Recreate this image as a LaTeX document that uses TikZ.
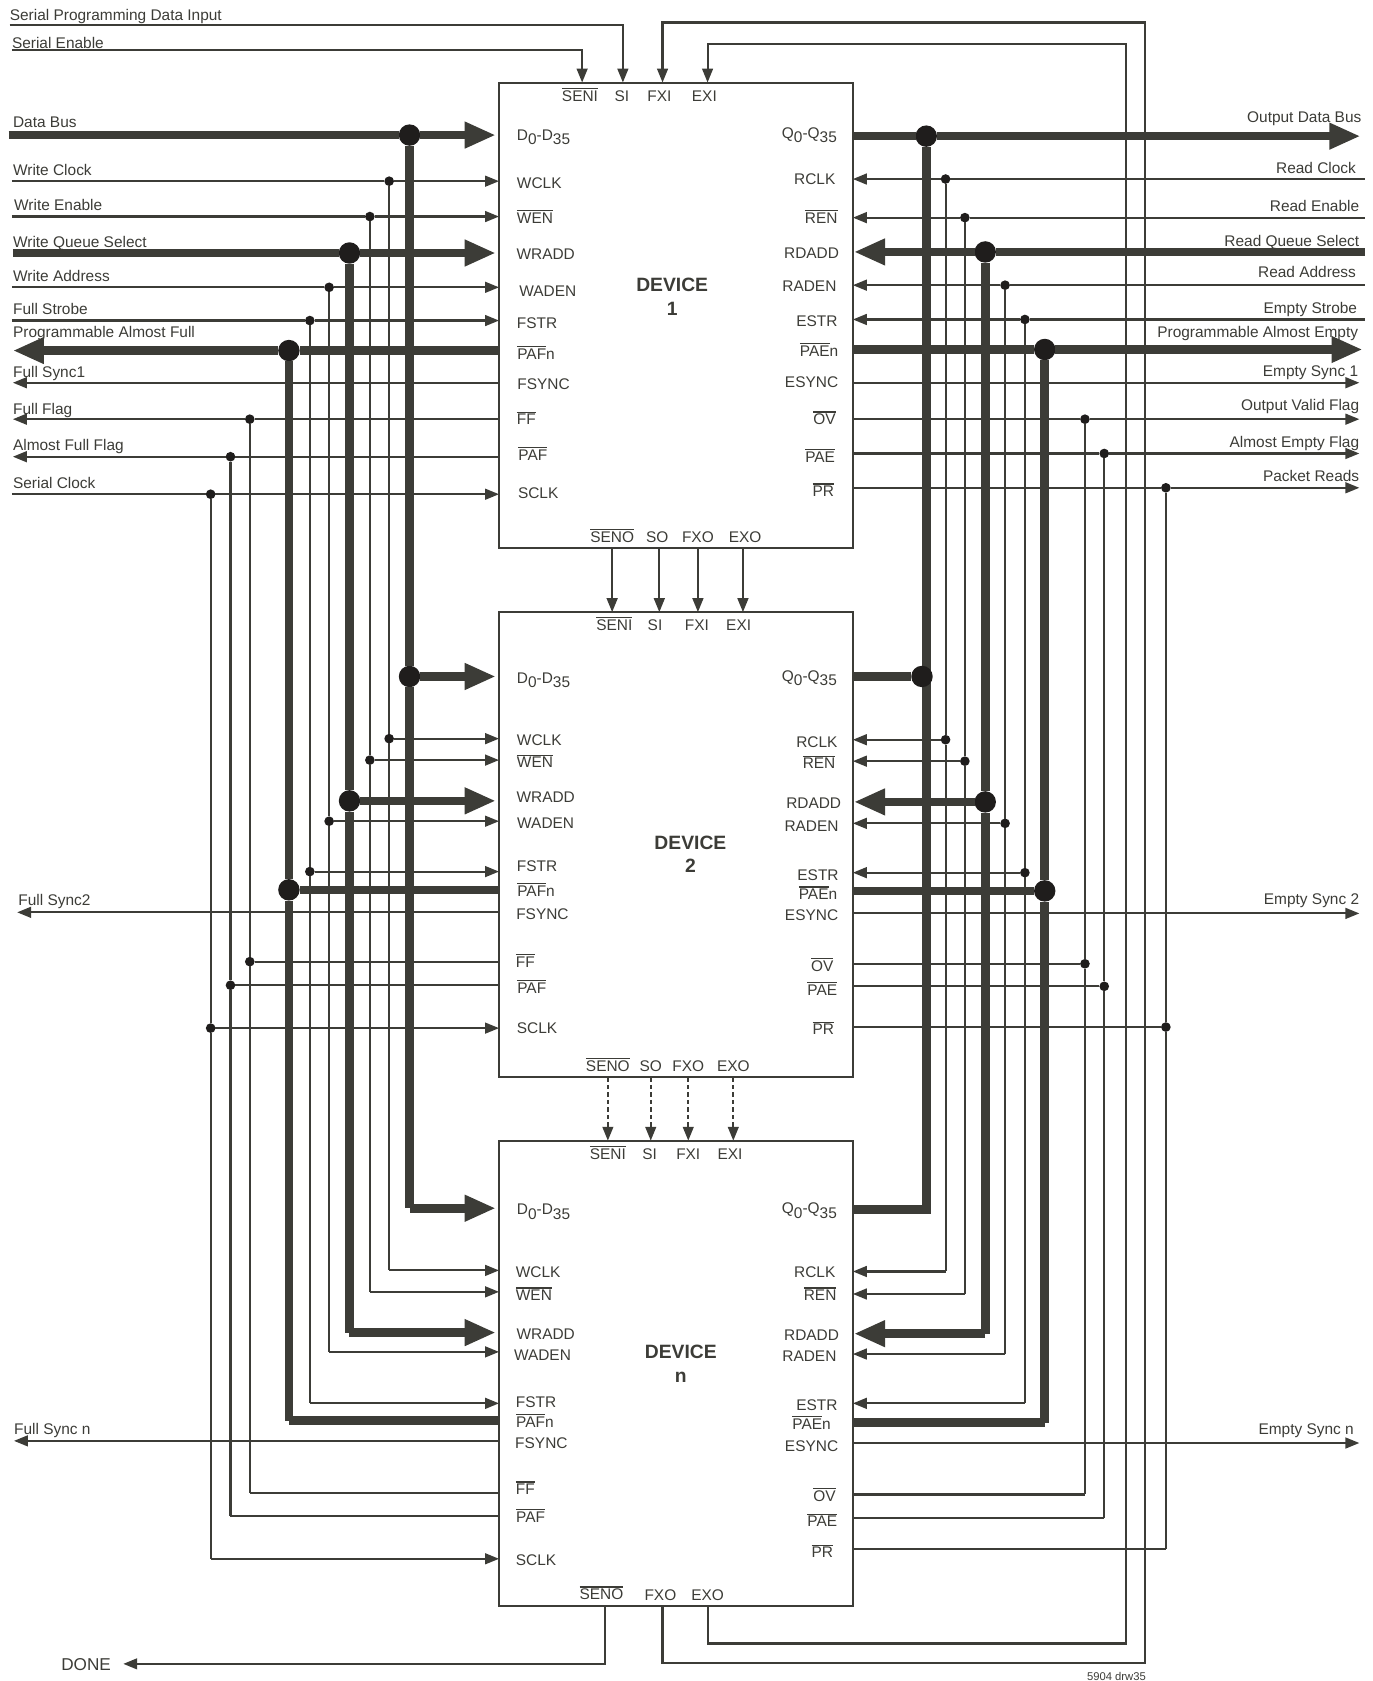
\documentclass[tikz,border=0pt]{standalone}
\usepackage{fontspec}
\setmainfont{Liberation Sans}
\usetikzlibrary{arrows.meta,positioning}
\definecolor{ink}{HTML}{3C3C37}
\definecolor{blob}{HTML}{1F1D1C}
\newcommand{\ovl}[1]{\leavevmode\vbox{\hrule height 1.1pt\kern 1.4pt\hbox{#1}}}
\newcommand{\sbs}[1]{\raisebox{-4pt}{#1}}

\begin{document}
\begin{tikzpicture}[x=1pt, y=-1pt, >={Triangle[length=13pt,width=10pt]}, node distance=60pt, every node/.style={text=ink, font=\fontsize{14.4}{17}\selectfont}] % Styles
\tikzstyle{device}=[draw=ink, line width=1.8pt, minimum width=330pt, minimum height=434pt, inner sep=0pt, outer sep=0pt]
\tikzstyle{lab}=[inner sep=0pt, text height=12.5pt, text depth=0pt]
\tikzstyle{extl}=[lab, anchor=west]
\tikzstyle{extr}=[lab, anchor=east]
\tikzstyle{devname}=[lab, font=\bfseries\fontsize{18}{21}\selectfont]
\tikzstyle{dot}=[circle, fill=blob, minimum size=9pt, inner sep=0pt, outer sep=0pt]
\tikzstyle{bigdot}=[circle, fill=blob, minimum size=20pt, inner sep=0pt, outer sep=0pt]
\tikzstyle{sig}=[draw=ink, line width=2pt]
\tikzstyle{busline}=[draw=ink, line width=8pt]
\tikzstyle{bus}=[busline, -{Triangle[length=29pt,width=23pt]}, shorten >=3pt]
\tikzstyle{dashsig}=[sig, dash pattern=on 4pt off 3pt]
\useasboundingbox (0,0) rectangle (1280,1568);
% Devices
\node[device] (dev1) at (630.5,294) {};
\node[device, below=of dev1] (dev2) {};
\node[device, below=59pt of dev2] (devn) {};
\node[devname] (name1) at (627,266) {DEVICE};
\node[devname] (num1) at (627,288) {1};
\node[devname] (name2) at (644,786) {DEVICE};
\node[devname] (num2) at (644,808) {2};
\node[devname] (namen) at (635,1261) {DEVICE};
\node[devname] (numn) at (635,1283) {n};
% Device 1 pins
\node[lab] (l1seni) at (541,88) {\ovl{SENI}};
\node[lab] (l1si) at (580,88) {SI};
\node[lab] (l1fxi) at (615,88) {FXI};
\node[lab] (l1exi) at (657,88) {EXI};
\node[lab] (l1seno) at (571,500) {\ovl{SENO}};
\node[lab] (l1so) at (613,500) {SO};
\node[lab] (l1fxo) at (651,500) {FXO};
\node[lab] (l1exo) at (695,500) {EXO};
\node[lab] (l1d) at (507,125) {D\sbs{0}-D\sbs{35}};
\node[lab] (l1wclk) at (503,170) {WCLK};
\node[lab] (l1wen) at (499,202) {\ovl{WEN}};
\node[lab] (l1wrad) at (509,236) {WRADD};
\node[lab] (l1wad) at (511,270) {WADEN};
\node[lab] (l1fstr) at (501,300) {FSTR};
\node[lab] (l1pafn) at (500,329) {\ovl{PAF}n};
\node[lab] (l1fsy) at (507,357) {FSYNC};
\node[lab] (l1ff) at (491,390) {\ovl{FF}};
\node[lab] (l1paf) at (497,423) {\ovl{PAF}};
\node[lab] (l1sclk) at (502,459) {SCLK};
\node[lab] (l1q) at (755,122.5) {Q\sbs{0}-Q\sbs{35}};
\node[lab] (l1rclk) at (760,166) {RCLK};
\node[lab] (l1ren) at (766,202) {\ovl{REN}};
\node[lab] (l1rdad) at (757,235) {RDADD};
\node[lab] (l1rad) at (755,266) {RADEN};
\node[lab] (l1estr) at (762,298) {ESTR};
\node[lab] (l1paen) at (764,326) {\ovl{PAE}n};
\node[lab] (l1esy) at (757,355) {ESYNC};
\node[lab] (l1ov) at (769,390) {\ovl{OV}};
\node[lab] (l1pae) at (765,425) {\ovl{PAE}};
\node[lab] (l1pr) at (768,457) {\ovl{PR}};
% Device 2 pins
\node[lab] (l2seni) at (573,582) {\ovl{SENI}};
\node[lab] (l2si) at (611,582) {SI};
\node[lab] (l2fxi) at (650,582) {FXI};
\node[lab] (l2exi) at (689,582) {EXI};
\node[lab] (l2seno) at (567,993) {\ovl{SENO}};
\node[lab] (l2so) at (607,993) {SO};
\node[lab] (l2fxo) at (642,993) {FXO};
\node[lab] (l2exo) at (684,993) {EXO};
\node[lab] (l2d) at (507,631) {D\sbs{0}-D\sbs{35}};
\node[lab] (l2wclk) at (503,689) {WCLK};
\node[lab] (l2wen) at (499,710) {\ovl{WEN}};
\node[lab] (l2wrad) at (509,742) {WRADD};
\node[lab] (l2wad) at (509,767) {WADEN};
\node[lab] (l2fstr) at (501,807) {FSTR};
\node[lab] (l2pafn) at (500,830) {\ovl{PAF}n};
\node[lab] (l2fsy) at (506,851) {FSYNC};
\node[lab] (l2ff) at (490,896) {\ovl{FF}};
\node[lab] (l2paf) at (496,920) {\ovl{PAF}};
\node[lab] (l2sclk) at (501,958) {SCLK};
\node[lab] (l2q) at (755,629.5) {Q\sbs{0}-Q\sbs{35}};
\node[lab] (l2rclk) at (762,691) {RCLK};
\node[lab] (l2ren) at (764,711) {\ovl{REN}};
\node[lab] (l2rdad) at (759,748) {RDADD};
\node[lab] (l2rad) at (757,769) {RADEN};
\node[lab] (l2estr) at (763,815) {ESTR};
\node[lab] (l2paen) at (763,833) {\ovl{PAE}n};
\node[lab] (l2esy) at (757,852) {ESYNC};
\node[lab] (l2ov) at (767,900) {\ovl{OV}};
\node[lab] (l2pae) at (767,922) {\ovl{PAE}};
\node[lab] (l2pr) at (768,959) {\ovl{PR}};
% Device n pins
\node[lab] (lnseni) at (567,1075) {\ovl{SENI}};
\node[lab] (lnsi) at (606,1075) {SI};
\node[lab] (lnfxi) at (642,1075) {FXI};
\node[lab] (lnexi) at (681,1075) {EXI};
\node[lab] (lnseno) at (561,1486) {\ovl{SENO}};
\node[lab] (lnfxo) at (616,1487) {FXO};
\node[lab] (lnexo) at (660,1487) {EXO};
\node[lab] (lnd) at (507,1127) {D\sbs{0}-D\sbs{35}};
\node[lab] (lnwclk) at (502,1185) {WCLK};
\node[lab] (lnwen) at (498,1207) {\ovl{WEN}};
\node[lab] (lnwrad) at (509,1243) {WRADD};
\node[lab] (lnwad) at (506,1263) {WADEN};
\node[lab] (lnfstr) at (500,1307) {FSTR};
\node[lab] (lnpafn) at (499,1325) {\ovl{PAF}n};
\node[lab] (lnfsy) at (505,1345) {FSYNC};
\node[lab] (lnff) at (490,1388) {\ovl{FF}};
\node[lab] (lnpaf) at (495,1414) {\ovl{PAF}};
\node[lab] (lnsclk) at (500,1454) {SCLK};
\node[lab] (lnq) at (755,1126) {Q\sbs{0}-Q\sbs{35}};
\node[lab] (lnrclk) at (760,1185) {RCLK};
\node[lab] (lnren) at (765,1207) {\ovl{REN}};
\node[lab] (lnrdad) at (757,1244) {RDADD};
\node[lab] (lnrad) at (755,1264) {RADEN};
\node[lab] (lnestr) at (762,1309) {ESTR};
\node[lab] (lnpaen) at (757,1327) {\ovl{PAE}n};
\node[lab] (lnesy) at (757,1348) {ESYNC};
\node[lab] (lnov) at (769,1394) {\ovl{OV}};
\node[lab] (lnpae) at (767,1418) {\ovl{PAE}};
\node[lab] (lnpr) at (767,1447) {\ovl{PR}};
% Outside labels
\node[extl] (tspi) at (9,13) {Serial Programming Data Input};
\node[extl] (tsen) at (11,39) {Serial Enable};
\node[extl] (tdbus) at (12,113) {Data Bus};
\node[extl] (twclk) at (12,157) {Write Clock};
\node[extl] (twen) at (13,190) {Write Enable};
\node[extl] (twrad) at (12,225) {Write Queue Select};
\node[extl] (twad) at (12,256) {Write Address};
\node[extl] (tfstr) at (12,287) {Full Strobe};
\node[extl] (tpafn) at (12,309) {Programmable Almost Full};
\node[extl] (tfs1) at (12,346) {Full Sync1};
\node[extl] (tff) at (12,380) {Full Flag};
\node[extl] (tpaf) at (12,414) {Almost Full Flag};
\node[extl] (tsclk) at (12,449) {Serial Clock};
\node[extl] (tfs2) at (17,838) {Full Sync2};
\node[extl] (tfsn) at (13,1332) {Full Sync n};
\node[extl] (tdone) at (57,1552) {\fontsize{16}{18}\selectfont DONE};
\node[extr] (tq) at (1270,108) {Output Data Bus};
\node[extr] (trclk) at (1265,156) {Read Clock};
\node[extr] (tren) at (1268,191) {Read Enable};
\node[extr] (trdad) at (1268,224) {Read Queue Select};
\node[extr] (trad) at (1265,253) {Read Address};
\node[extr] (testr) at (1266,286) {Empty Strobe};
\node[extr] (tpaen) at (1267,309) {Programmable Almost Empty};
\node[extr] (tes1) at (1267,345) {Empty Sync 1};
\node[extr] (tov) at (1268,377) {Output Valid Flag};
\node[extr] (tpae) at (1268,411) {Almost Empty Flag};
\node[extr] (tpr) at (1268,443) {Packet Reads};
\node[extr] (tes2) at (1268,837) {Empty Sync 2};
\node[extr] (tesn) at (1263,1332) {Empty Sync n};
\node[extr, font=\fontsize{10.5}{12}\selectfont] (tdrw) at (1069,1561) {5904 drw35};
% Junctions, left
\node[bigdot] (dbus1) at (382,126) {}; \node[bigdot] (dbus2) at (382,631) {}; \coordinate (dbusn) at (382,1127); \coordinate (dbusin) at (8,126);
\node[dot] (wclk1) at (363,169) {}; \node[dot] (wclk2) at (363,689) {}; \coordinate (wclkn) at (363,1185); \coordinate (wclkin) at (11,169);
\node[dot] (wen1) at (345,202) {}; \node[dot] (wen2) at (345,709) {}; \coordinate (wenn) at (345,1205); \coordinate (wenin) at (11,202);
\node[bigdot] (wrad1) at (326,236) {}; \node[bigdot] (wrad2) at (326,747) {}; \coordinate (wradn) at (326,1243); \coordinate (wradin) at (12,236);
\node[dot] (wad1) at (307,268) {}; \node[dot] (wad2) at (307,766) {}; \coordinate (wadn) at (307,1261); \coordinate (wadin) at (11,268);
\node[dot] (fstr1) at (289,299) {}; \node[dot] (fstr2) at (289,813) {}; \coordinate (fstrn) at (289,1309); \coordinate (fstrin) at (11,299);
\node[bigdot] (pafn1) at (269.5,327) {}; \node[bigdot] (pafn2) at (269.5,830) {}; \coordinate (pafnn) at (269.5,1325); \coordinate (pafnout) at (9,327);
\node[dot] (ff1) at (233,391) {}; \node[dot] (ff2) at (233,897) {}; \coordinate (ffn) at (233,1393); \coordinate (ffout) at (12,391);
\node[dot] (paf1) at (215,426) {}; \node[dot] (paf2) at (215,919) {}; \coordinate (pafn) at (215,1414); \coordinate (pafout) at (12,426);
\node[dot] (sclk1) at (196.5,461) {}; \node[dot] (sclk2) at (196.5,959) {}; \coordinate (sclkn) at (196.5,1454); \coordinate (sclkin) at (11,461);
\coordinate (fsync1) at (12,357); \coordinate (fsync2) at (16,851); \coordinate (fsyncn) at (13,1344);
% Junctions, right
\node[bigdot] (q1) at (864,127) {}; \coordinate (qn) at (864,1128); \coordinate (qout) at (1272,127);
\node[dot] (rclk1) at (882,167) {}; \node[dot] (rclk2) at (882,690) {}; \coordinate (rclkn) at (882,1186); \coordinate (rclkin) at (1273,167);
\node[dot] (ren1) at (900,203) {}; \node[dot] (ren2) at (900,710) {}; \coordinate (renn) at (900,1207); \coordinate (renin) at (1273,203);
\node[bigdot] (rdad1) at (919,235) {}; \node[bigdot] (rdad2) at (919,748) {}; \coordinate (rdadn) at (919,1244); \coordinate (rdadin) at (1273,235);
\node[dot] (rad1) at (937.5,266) {}; \node[dot] (rad2) at (937.5,768) {}; \coordinate (radn) at (937.5,1263); \coordinate (radin) at (1273,266);
\node[dot] (estr1) at (956,298) {}; \node[dot] (estr2) at (956,814) {}; \coordinate (estrn) at (956,1309); \coordinate (estrin) at (1273,298);
\node[bigdot] (paen1) at (974.5,326) {}; \node[bigdot] (paen2) at (974.5,831) {}; \coordinate (paenn) at (974.5,1327); \coordinate (paenout) at (1274,326);
\node[dot] (ov1) at (1012,391) {}; \node[dot] (ov2) at (1012,899) {}; \coordinate (ovn) at (1012,1394); \coordinate (ovout) at (1268,391);
\node[dot] (pae1) at (1030,423) {}; \node[dot] (pae2) at (1030,920) {}; \coordinate (paen) at (1030,1416); \coordinate (paeout) at (1268,423);
\node[dot] (pr1) at (1087.5,455) {}; \node[dot] (pr2) at (1087.5,958) {}; \coordinate (prn) at (1087.5,1445); \coordinate (prout) at (1268,455);
\coordinate (esync1) at (1268,357); \coordinate (esync2) at (1268,852); \coordinate (esyncn) at (1268,1346);
% Top and bottom runs
\coordinate (spiin) at (9,23); \coordinate (spitop) at (581,23);
\coordinate (senin) at (11,47); \coordinate (sentop) at (543,47);
\coordinate (fxitop) at (618,21); \coordinate (fxiend) at (1068,21); \coordinate (fxoend) at (1068,1551); \coordinate (fxobot) at (618,1551);
\coordinate (exitop) at (660,41); \coordinate (exiend) at (1050,41); \coordinate (exoend) at (1050,1533); \coordinate (exobot) at (660,1533);
\coordinate (donebot) at (564,1552); \coordinate (doneend) at (115,1552);
\coordinate (lnk1) at (571,511); \coordinate (lnk2) at (615,511); \coordinate (lnk3) at (651,511); \coordinate (lnk4) at (693,511);
\coordinate (lnk5) at (567,1005); \coordinate (lnk6) at (607,1005); \coordinate (lnk7) at (642,1005); \coordinate (lnk8) at (684,1005);
% Connections, left
\draw[bus] (dbusin) -- (dbus1) -- (dbus1 -| dev1.west);
\draw[busline] (dbus1) -- (dbus2) -- (dbusn);
\draw[bus] (dbus2) -- (dbus2 -| dev2.west);
\draw[bus] (dbusn) -- (dbusn -| devn.west);
\draw[sig,->] (wclkin) -- (wclk1) -- (wclk1 -| dev1.west);
\draw[sig] (wclk1) -- (wclk2) -- (wclkn);
\draw[sig,->] (wclk2) -- (wclk2 -| dev2.west);
\draw[sig,->] (wclkn) -- (wclkn -| devn.west);
\draw[sig,->] (wenin) -- (wen1) -- (wen1 -| dev1.west);
\draw[sig] (wen1) -- (wen2) -- (wenn);
\draw[sig,->] (wen2) -- (wen2 -| dev2.west);
\draw[sig,->] (wenn) -- (wenn -| devn.west);
\draw[bus] (wradin) -- (wrad1) -- (wrad1 -| dev1.west);
\draw[busline] (wrad1) -- (wrad2) -- (wradn);
\draw[bus] (wrad2) -- (wrad2 -| dev2.west);
\draw[bus] (wradn) -- (wradn -| devn.west);
\draw[sig,->] (wadin) -- (wad1) -- (wad1 -| dev1.west);
\draw[sig] (wad1) -- (wad2) -- (wadn);
\draw[sig,->] (wad2) -- (wad2 -| dev2.west);
\draw[sig,->] (wadn) -- (wadn -| devn.west);
\draw[sig,->] (fstrin) -- (fstr1) -- (fstr1 -| dev1.west);
\draw[sig] (fstr1) -- (fstr2) -- (fstrn);
\draw[sig,->] (fstr2) -- (fstr2 -| dev2.west);
\draw[sig,->] (fstrn) -- (fstrn -| devn.west);
\draw[bus] (pafn1 -| dev1.west) -- (pafn1) -- (pafnout);
\draw[busline] (pafn1) -- (pafn2) -- (pafnn);
\draw[busline] (pafn2) -- (pafn2 -| dev2.west);
\draw[busline] (pafnn) -- (pafnn -| devn.west);
\draw[sig,->] (ff1 -| dev1.west) -- (ff1) -- (ffout);
\draw[sig] (ff1) -- (ff2) -- (ffn);
\draw[sig] (ff2) -- (ff2 -| dev2.west);
\draw[sig] (ffn) -- (ffn -| devn.west);
\draw[sig,->] (paf1 -| dev1.west) -- (paf1) -- (pafout);
\draw[sig] (paf1) -- (paf2) -- (pafn);
\draw[sig] (paf2) -- (paf2 -| dev2.west);
\draw[sig] (pafn) -- (pafn -| devn.west);
\draw[sig,->] (sclkin) -- (sclk1) -- (sclk1 -| dev1.west);
\draw[sig] (sclk1) -- (sclk2) -- (sclkn);
\draw[sig,->] (sclk2) -- (sclk2 -| dev2.west);
\draw[sig,->] (sclkn) -- (sclkn -| devn.west);
\draw[sig,->] (fsync1 -| dev1.west) -- (fsync1);
\draw[sig,->] (fsync2 -| dev2.west) -- (fsync2);
\draw[sig,->] (fsyncn -| devn.west) -- (fsyncn);
% Connections, right
\draw[bus] (q1 -| dev1.east) -- (q1) -- (qout);
\draw[busline] (q1) -- (qn) -- (qn -| devn.east);
\node[bigdot] (q2) at (860,631) {};
\draw[busline] (q2) -- (q2 -| dev2.east);
\draw[sig,->] (rclkin) -- (rclk1) -- (rclk1 -| dev1.east);
\draw[sig] (rclk1) -- (rclk2) -- (rclkn);
\draw[sig,->] (rclk2) -- (rclk2 -| dev2.east);
\draw[sig,->] (rclkn) -- (rclkn -| devn.east);
\draw[sig,->] (renin) -- (ren1) -- (ren1 -| dev1.east);
\draw[sig] (ren1) -- (ren2) -- (renn);
\draw[sig,->] (ren2) -- (ren2 -| dev2.east);
\draw[sig,->] (renn) -- (renn -| devn.east);
\draw[bus, shorten >=1pt] (rdadin) -- (rdad1) -- (rdad1 -| dev1.east);
\draw[busline] (rdad1) -- (rdad2) -- (rdadn);
\draw[bus, shorten >=1pt] (rdad2) -- (rdad2 -| dev2.east);
\draw[bus, shorten >=1pt] (rdadn) -- (rdadn -| devn.east);
\draw[sig,->] (radin) -- (rad1) -- (rad1 -| dev1.east);
\draw[sig] (rad1) -- (rad2) -- (radn);
\draw[sig,->] (rad2) -- (rad2 -| dev2.east);
\draw[sig,->] (radn) -- (radn -| devn.east);
\draw[sig,->] (estrin) -- (estr1) -- (estr1 -| dev1.east);
\draw[sig] (estr1) -- (estr2) -- (estrn);
\draw[sig,->] (estr2) -- (estr2 -| dev2.east);
\draw[sig,->] (estrn) -- (estrn -| devn.east);
\draw[bus] (paen1 -| dev1.east) -- (paen1) -- (paenout);
\draw[busline] (paen1) -- (paen2) -- (paenn);
\draw[busline] (paen2) -- (paen2 -| dev2.east);
\draw[busline] (paenn) -- (paenn -| devn.east);
\draw[sig,->] (ov1 -| dev1.east) -- (ov1) -- (ovout);
\draw[sig] (ov1) -- (ov2) -- (ovn);
\draw[sig] (ov2) -- (ov2 -| dev2.east);
\draw[sig] (ovn) -- (ovn -| devn.east);
\draw[sig,->] (pae1 -| dev1.east) -- (pae1) -- (paeout);
\draw[sig] (pae1) -- (pae2) -- (paen);
\draw[sig] (pae2) -- (pae2 -| dev2.east);
\draw[sig] (paen) -- (paen -| devn.east);
\draw[sig,->] (pr1 -| dev1.east) -- (pr1) -- (prout);
\draw[sig] (pr1) -- (pr2) -- (prn);
\draw[sig] (pr2) -- (pr2 -| dev2.east);
\draw[sig] (prn) -- (prn -| devn.east);
\draw[sig,->] (esync1 -| dev1.east) -- (esync1);
\draw[sig,->] (esync2 -| dev2.east) -- (esync2);
\draw[sig,->] (esyncn -| devn.east) -- (esyncn);
% Connections, top and bottom
\draw[sig,->] (spiin) -- (spitop) -- (spitop |- dev1.north);
\draw[sig,->] (senin) -- (sentop) -- (sentop |- dev1.north);
\draw[sig,->] (fxobot |- devn.south) -- (fxobot) -- (fxoend) -- (fxiend) -- (fxitop) -- (fxitop |- dev1.north);
\draw[sig,->] (exobot |- devn.south) -- (exobot) -- (exoend) -- (exiend) -- (exitop) -- (exitop |- dev1.north);
\draw[sig,->] (donebot |- devn.south) -- (donebot) -- (doneend);
\draw[sig,->] (lnk1) -- (lnk1 |- dev2.north);
\draw[sig,->] (lnk2) -- (lnk2 |- dev2.north);
\draw[sig,->] (lnk3) -- (lnk3 |- dev2.north);
\draw[sig,->] (lnk4) -- (lnk4 |- dev2.north);
\draw[dashsig,->] (lnk5) -- (lnk5 |- devn.north);
\draw[dashsig,->] (lnk6) -- (lnk6 |- devn.north);
\draw[dashsig,->] (lnk7) -- (lnk7 |- devn.north);
\draw[dashsig,->] (lnk8) -- (lnk8 |- devn.north);
\end{tikzpicture}
\end{document}
